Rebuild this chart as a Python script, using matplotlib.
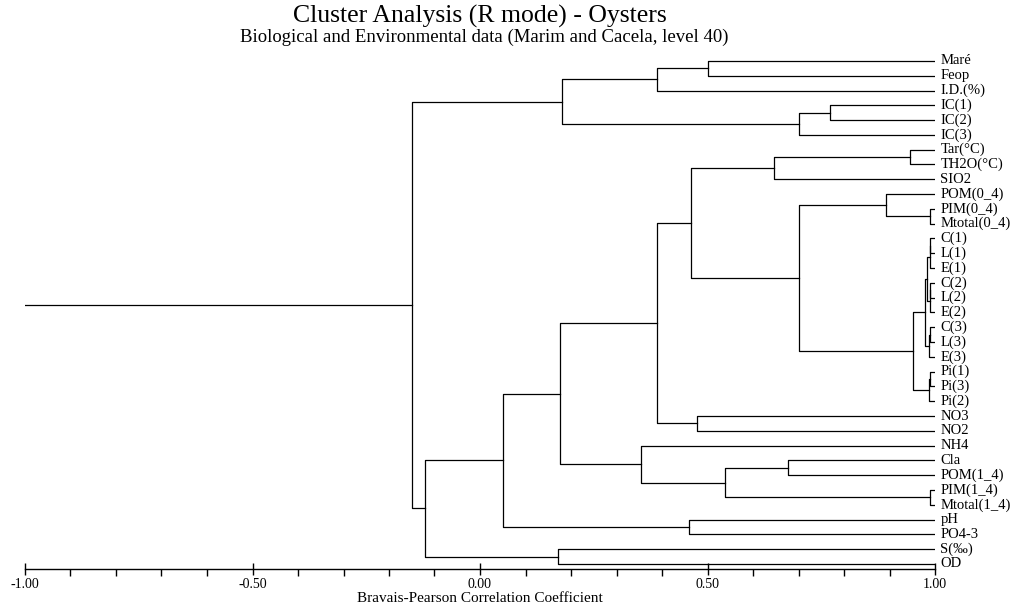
import numpy as np
import matplotlib
matplotlib.use("Agg")
import matplotlib.pyplot as plt
from matplotlib.ticker import MultipleLocator

plt.rcParams["font.family"] = ["Liberation Serif", "DejaVu Serif"]
plt.rcParams["axes.unicode_minus"] = False

# leaves, top to bottom
labels = ["Maré", "Feop", "I.D.(%)", "IC(1)", "IC(2)", "IC(3)",
          "Tar(°C)", "TH2O(°C)", "SIO2", "POM(0_4)", "PIM(0_4)", "Mtotal(0_4)",
          "C(1)", "L(1)", "E(1)", "C(2)", "L(2)", "E(2)", "C(3)", "L(3)", "E(3)",
          "Pi(1)", "Pi(3)", "Pi(2)", "NO3", "NO2", "NH4", "Cla", "POM(1_4)",
          "PIM(1_4)", "Mtotal(1_4)", "pH", "PO4-3", "S(‰)", "OD"]

# merges: (child a, child b, correlation level); new node ids start at len(labels)
merge_a = [0, 35, 3, 37, 36, 6, 40, 10, 9, 12, 44, 15, 46, 18, 48, 45, 50, 21, 52, 51,
           43, 41, 24, 56, 27, 29, 59, 26, 58, 31, 63, 33, 65, 39]
merge_b = [1, 2, 4, 5, 38, 7, 8, 11, 42, 13, 14, 16, 17, 19, 20, 47, 49, 22, 23, 53,
           54, 55, 25, 57, 28, 30, 60, 61, 62, 32, 64, 34, 66, 67]
merge_r = [0.50, 0.39, 0.77, 0.70, 0.18, 0.945, 0.646, 0.99, 0.892, 0.99, 0.988,
           0.99, 0.988, 0.99, 0.986, 0.982, 0.978, 0.99, 0.986, 0.952,
           0.70, 0.464, 0.477, 0.39, 0.677, 0.99, 0.538, 0.354, 0.176, 0.46,
           0.05, 0.172, -0.12, -0.149]

n = len(labels)
node_x = {i: 1.0 for i in range(n)}
node_y = {i: float(i) for i in range(n)}

fig = plt.figure(figsize=(10.2, 6.13), dpi=100)
ax = fig.add_axes([25 / 1020, 1 - 569 / 613, 910 / 1020, 514 / 613])

lw = 0.9
for k, (a, b, r) in enumerate(zip(merge_a, merge_b, merge_r)):
    node = n + k
    ya, yb = node_y[a], node_y[b]
    ax.plot([node_x[a], r, r, node_x[b]], [ya, ya, yb, yb], color="black", lw=lw)
    node_x[node] = r
    node_y[node] = (ya + yb) / 2

root = n + len(merge_r) - 1
ax.plot([-1.0, node_x[root]], [node_y[root], node_y[root]], color="black", lw=lw)

for i, lab in enumerate(labels):
    ax.text(1.012, i, lab, ha="left", va="center", fontsize=10.5, clip_on=False)

ax.set_xlim(-1.0, 1.0)
ax.set_ylim(34.34, -0.4)
for s in ["left", "right", "top"]:
    ax.spines[s].set_visible(False)
ax.spines["bottom"].set_linewidth(1.0)
ax.set_yticks([])
ax.xaxis.set_major_locator(MultipleLocator(0.5))
ax.xaxis.set_minor_locator(MultipleLocator(0.1))
ax.xaxis.set_major_formatter(lambda v, p: f"{v:.2f}")
ax.tick_params(axis="x", which="major", direction="inout", length=9, width=1, labelsize=10, pad=2)
ax.tick_params(axis="x", which="minor", direction="out", length=5, width=1)
ax.set_xlabel("Bravais-Pearson Correlation Coefficient", fontsize=11, labelpad=1)

fig.text(480 / 1020, 1 - 16 / 613, "Cluster Analysis (R mode) - Oysters",
         ha="center", va="center", fontsize=18.5)
fig.text(484 / 1020, 1 - 37 / 613,
         "Biological and Environmental data (Marim and Cacela, level 40)",
         ha="center", va="center", fontsize=13.5)

fig.savefig("out.png", dpi=100)
